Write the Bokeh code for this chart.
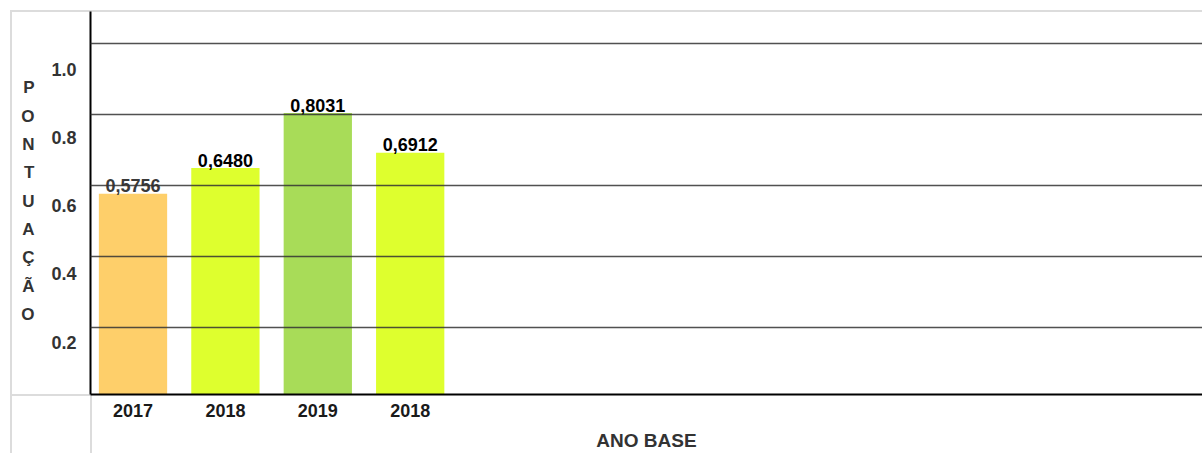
from bokeh.plotting import figure
from bokeh.models import (Range1d, LinearAxis, FixedTicker, Grid,
                          ColumnDataSource, NumeralTickFormatter)
from bokeh.core.properties import value
from bokeh.embed import file_html
from bokeh.resources import INLINE

# ---- data ----
years = ["2017", "2018", "2019", "2018"]
scores = [0.5756, 0.6480, 0.8031, 0.6912]
bar_colors = ["#FECF6A", "#DEFF2E", "#A8DC58", "#DEFF2E"]
label_colors = ["#3a3a3a", "#000000", "#000000", "#000000"]
y_ticks = [0.2, 0.4, 0.6, 0.8, 1.0]
x_title = "ANO BASE"
y_title = "PONTUAÇÃO"

FONT = "Liberation Sans"

xs = list(range(len(years)))
src = ColumnDataSource(dict(
    x=xs, top=scores, color=bar_colors,
    text=[f"{v:.4f}".replace(".", ",") for v in scores],
    tcolor=label_colors,
))

p = figure(width=1202, height=453, output_backend="svg", toolbar_location=None,
           x_range=Range1d(-0.46, 11.575), y_range=Range1d(0.0098, 1.0894),
           y_axis_location=None,
           min_border_left=90, min_border_right=0, min_border_top=11,
           min_border_bottom=58)
p.outline_line_color = None
p.xgrid.visible = False
p.ygrid.visible = False
p.background_fill_color = None
p.border_fill_color = None

# light gray table-like borders (page decoration)
g_ = "linear-gradient(#dcdcdc,#dcdcdc)"
p.styles = {
    "background-color": "white",
    "background-image": ", ".join([g_] * 4),
    "background-size": "2px 443px, 1192px 2px, 80px 2px, 2px 58px",
    "background-position": "10px 10px, 10px 10px, 10px 394px, 90px 395px",
    "background-repeat": "no-repeat",
}

# bars
p.vbar(x="x", top="top", bottom=0, width=0.739, source=src,
       fill_color="color", line_color=None)

# value labels
p.text(x="x", y="top", text="text", source=src, text_align="center",
       text_baseline="alphabetic", y_offset=-8,
       text_font=value(FONT), text_font_size="18px", text_font_style="bold",
       text_color="tcolor")

# grid drawn above bars
g = Grid(dimension=1, ticker=FixedTicker(ticks=y_ticks),
         grid_line_color="#333333", grid_line_alpha=0.85, grid_line_width=1.6,
         level="annotation")
p.add_layout(g)

# x axis
ax = p.xaxis[0]
ax.ticker = FixedTicker(ticks=xs)
ax.major_label_overrides = {i: y for i, y in enumerate(years)}
ax.axis_line_color = "black"
ax.axis_line_width = 2
ax.major_tick_line_color = None
ax.minor_tick_line_color = None
ax.major_tick_out = 0
ax.major_tick_in = 0
ax.major_label_standoff = 9
ax.major_label_text_font = FONT
ax.major_label_text_font_size = "18px"
ax.major_label_text_font_style = "bold"
ax.major_label_text_color = "#1a1a1a"
ax.axis_label = x_title
ax.axis_label_standoff = 10
ax.axis_label_text_font = FONT
ax.axis_label_text_font_size = "19px"
ax.axis_label_text_font_style = "bold"
ax.axis_label_text_color = "#333333"

# y axis (labels on a shifted scale, as in the original)
p.extra_y_ranges = {"lbl": Range1d(0.0465, 1.1693),
                    "ttl": Range1d(-2.82, 10.70)}
yax = LinearAxis(y_range_name="lbl", ticker=FixedTicker(ticks=y_ticks),
                 formatter=NumeralTickFormatter(format="0.0"))
yax.axis_line_color = "black"
yax.axis_line_width = 2
yax.major_tick_line_color = None
yax.minor_tick_line_color = None
yax.major_tick_out = 0
yax.major_tick_in = 0
yax.major_label_standoff = 14
yax.major_label_text_font = FONT
yax.major_label_text_font_size = "18px"
yax.major_label_text_font_style = "bold"
yax.major_label_text_color = "#333333"
p.add_layout(yax, "left")

# vertical stacked title letters, drawn as an axis of letters
letters = list(y_title)
n = len(letters)
tax = LinearAxis(y_range_name="ttl", ticker=FixedTicker(ticks=list(range(n))),
                 major_label_overrides={n - 1 - k: ch for k, ch in enumerate(letters)})
tax.axis_line_color = None
tax.major_tick_line_color = None
tax.minor_tick_line_color = None
tax.major_tick_out = 0
tax.major_tick_in = 0
tax.major_label_standoff = 14
tax.major_label_text_font = FONT
tax.major_label_text_font_size = "17px"
tax.major_label_text_font_style = "bold"
tax.major_label_text_color = "#333333"
p.add_layout(tax, "left")

open("out.html", "w").write(file_html(p, INLINE))
